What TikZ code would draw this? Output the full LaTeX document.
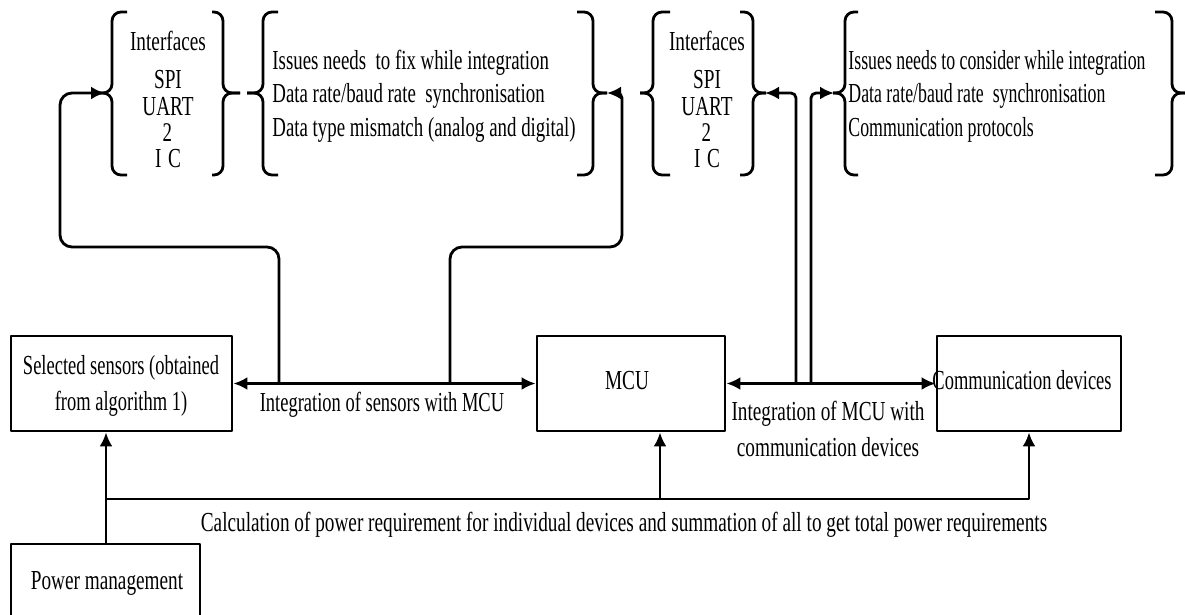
\documentclass[tikz,border=0pt]{standalone}
\usepackage{fontspec}
\setmainfont{Liberation Serif}[FakeStretch=0.70]
\usetikzlibrary{arrows.meta}
\newcommand{\mybrace}[6]{%
  \draw[brc] (#1,#4) -- (#2,#4) -- (#2,#5) -- (#3,#5);
  \draw[brc] (#1,#6) -- (#2,#6) -- (#2,#5) -- (#3,#5);}
\newcommand{\itwoc}{I\kern1pt\raisebox{26pt}{\fontsize{27}{27}\selectfont 2}\kern-4pt C}
\newcommand{\nx}[2]{\scalebox{#1}[1]{#2}}
\begin{document}
\begin{tikzpicture}[x=1pt,y=-1pt,line width=2.8pt,line join=round,
  blk/.style={draw,minimum width=#1,minimum height=95pt,inner sep=0pt},
  txt/.style={font=\fontsize{27.5}{33.5}\selectfont,inner sep=0pt,anchor=base},
  brc/.style={rounded corners=9pt},
  arr/.style={-{Latex[length=14pt,width=13pt]}},
  darr/.style={{Latex[length=14pt,width=13pt]}-{Latex[length=14pt,width=13pt]}}]
\clip (0,0) rectangle (1185,614);
\fill[white] (0,0) rectangle (1185,614);
% boxes
\node[blk=221pt] (sens) at (121.5,383.5) {};
\node[blk=188pt] (mcu) at (631,383.5) {};
\node[blk=184pt] (comm) at (1029,383.5) {};
\node[blk=189pt,minimum height=96pt] (pwr) at (105.5,592) {};
% box texts
\node[txt] (sensA) at (121,374) {\nx{0.96}{Selected sensors (obtained}};
\node[txt] (sensB) at (121,410) {\nx{0.96}{from algorithm 1)}};
\node[txt] (mcuT) at (627,389) {MCU};
\node[txt] (commT) at (1022,389) {\nx{0.96}{Communication devices}};
\node[txt] (pwrT) at (107,589) {Power management};
% connector labels
\node[txt] (labA) at (382,411) {\nx{0.96}{Integration of sensors with MCU}};
\node[txt] (labB) at (828,420) {Integration of MCU with};
\node[txt] (labC) at (828,456) {communication devices};
\node[txt] (labD) at (624,531) {Calculation of power requirement for individual devices and summation of all to get total power requirements};
% interfaces groups
\node[txt] (ifa1) at (168,50) {Interfaces};
\node[txt] (ifa2) at (168,88) {SPI};
\node[txt] (ifa3) at (168,115) {UART};
\node[txt] (ifa4) at (168,167) {\itwoc};
\node[txt] (ifb1) at (707,50) {Interfaces};
\node[txt] (ifb2) at (707,88) {SPI};
\node[txt] (ifb3) at (707,115) {UART};
\node[txt] (ifb4) at (707,167) {\itwoc};
% issues (base anchor = last line)
\node[txt,anchor=base west,align=left] (issA) at (271,136) {\nx{0.98}{Issues needs\ \ to fix while integration}\\\nx{0.98}{Data rate/baud rate\ \ synchronisation}\\\nx{0.98}{Data type mismatch (analog and digital)}};
\node[txt,anchor=base west,align=left] (issB) at (847,136) {\nx{0.925}{Issues needs to consider while integration}\\\nx{0.925}{Data rate/baud rate\ \ synchronisation}\\\nx{0.925}{Communication protocols}};
% braces
\mybrace{127}{112}{100}{12}{93}{175}
\mybrace{212}{223}{240}{12}{93}{175}
\mybrace{278}{263}{247}{12}{93}{175}
\mybrace{577}{593}{607}{12}{93}{175}
\mybrace{670}{653}{640}{12}{93}{175}
\mybrace{740}{753}{766}{12}{93}{175}
\mybrace{858}{845}{833}{12}{93}{175}
\mybrace{1155}{1172}{1186}{12}{93}{175}
% junction and cusp coordinates
\coordinate (j1) at (279,383.5);
\coordinate (j2) at (450,383.5);
\coordinate (j3) at (796,383.5);
\coordinate (j4) at (811,383.5);
\coordinate (c1) at (105,93);
\coordinate (c4) at (607,93);
\coordinate (c6) at (765,93);
\coordinate (c7) at (834,93);
\coordinate (pj) at (106,499);
\coordinate (pm) at (660,499);
% main connectors
\draw[darr] (sens.east) -- (mcu.west);
\draw[darr] (mcu.east) -- (comm.west);
\draw[arr,rounded corners=12pt] (j1) -- (279,247) -- (60,247) -- (60,93) [rounded corners=5pt] -- (c1);
\draw[arr,rounded corners=12pt] (j2) -- (450,247) -- (622,247) [rounded corners=5pt] -- (622,93) -- (c4);
\draw[arr,rounded corners=5pt] (j3) -- (796,93) -- (c6);
\draw[arr,rounded corners=5pt] (j4) -- (811,93) -- (c7);
% power connectors
\draw[arr] (pwr.north -| pj) -- (pj |- sens.south);
\draw[arr] (pj) -| (comm.south);
\draw[arr] (pm) -- (pm |- mcu.south);
\end{tikzpicture}
\end{document}
